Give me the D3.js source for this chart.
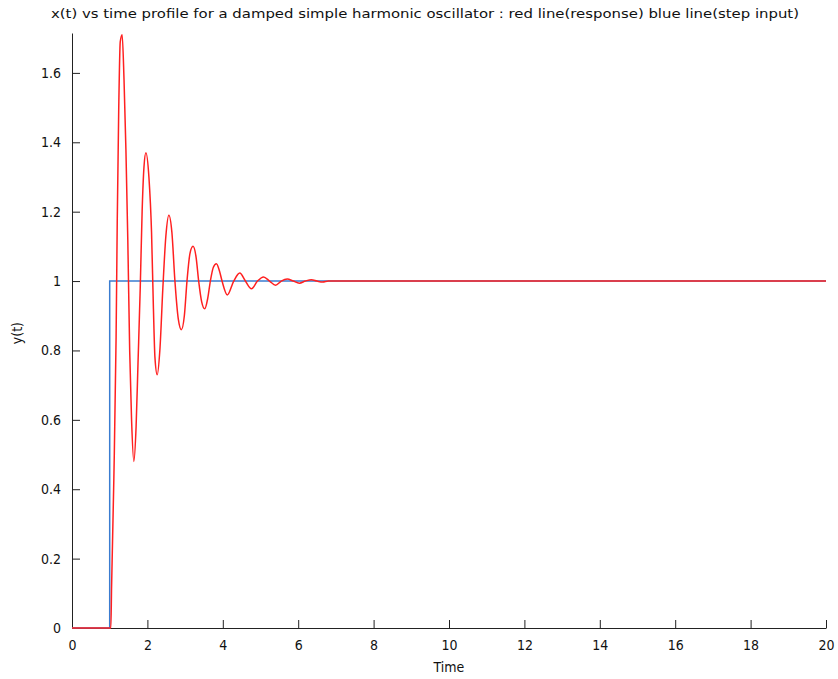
<!DOCTYPE html>
<html>
  <head>
    <meta charset="utf-8">
    <title>Damped oscillator</title>
    <script src="https://d3js.org/d3.v7.min.js"></script>
    <style>
      body { margin: 0; background: white; }
      text { font-family: "Liberation Sans Narrow", "DejaVu Sans Condensed", "Liberation Sans", sans-serif; fill: #111; }
      .axis path, .axis line { stroke: #222; stroke-width: 1; }
      .resp { fill: none; stroke: #ff2020; stroke-width: 1.5; }
      .step { fill: none; stroke: #3a7cd0; stroke-width: 1.5; }
    </style>
  </head>
  <body>
    <script>
      // red line: response
      var respT = [0, 1.00, 1.03, 1.05, 1.11, 1.17, 1.20, 1.24, 1.28, 1.33, 1.38, 1.43, 1.48, 1.53, 1.58, 1.64,
        1.70, 1.75, 1.81, 1.86, 1.91, 1.96, 2.04, 2.11, 2.16, 2.20, 2.26, 2.33, 2.41, 2.49, 2.57, 2.65,
        2.73, 2.82, 2.90, 2.98, 3.05, 3.13, 3.21, 3.29, 3.36, 3.44, 3.52, 3.60, 3.67, 3.75, 3.83, 3.91,
        3.98, 4.12, 4.29, 4.45, 4.60, 4.76, 4.92, 5.08, 5.24, 5.40, 5.55, 5.71, 5.87, 6.03, 6.19, 6.35,
        6.50, 6.65, 6.80, 20];
      var respV = [0, 0, 0, 0.12, 0.43, 0.84, 1.17, 1.50, 1.69, 1.71, 1.58, 1.38, 1.12, 0.80, 0.60, 0.48,
        0.58, 0.76, 0.98, 1.20, 1.33, 1.37, 1.30, 1.14, 0.92, 0.78, 0.73, 0.80, 0.98, 1.13, 1.19, 1.14,
        1.00, 0.89, 0.86, 0.90, 1.00, 1.08, 1.10, 1.07, 1.00, 0.94, 0.92, 0.95, 1.00, 1.04, 1.05, 1.03,
        1.00, 0.96, 1.00, 1.023, 1.00, 0.978, 1.00, 1.012, 1.00, 0.988, 1.00, 1.006, 1.00, 0.994, 1.00, 1.004,
        1.00, 0.997, 1.00, 1.00];

      // blue line: step input
      var stepT = [0, 1, 1, 20];
      var stepV = [0, 0, 1, 1];

      var xTicks = [0, 2, 4, 6, 8, 10, 12, 14, 16, 18, 20];
      var yTicks = [0, 0.2, 0.4, 0.6, 0.8, 1, 1.2, 1.4, 1.6];
      var yTickLabels = ['0', '0.2', '0.4', '0.6', '0.8', '1', '1.2', '1.4', '1.6'];

      var W = 838, H = 679;
      var m = { left: 72, right: 12, top: 33, bottom: 51 };

      var svg = d3.select('body').append('svg').attr('width', W).attr('height', H);

      var x = d3.scaleLinear().domain([0, 20]).range([m.left, W - m.right]);
      var y = d3.scaleLinear().domain([0, 1.715]).range([H - m.bottom, m.top]);

      var resp = respT.map(function(t, i){ return { t: t, v: respV[i] } });
      var step = stepT.map(function(t, i){ return { t: t, v: stepV[i] } });

      var xAxis = svg.append('g').attr('class', 'axis')
        .attr('transform', 'translate(0,' + (H - m.bottom) + ')')
        .call(d3.axisBottom(x).tickValues(xTicks).tickSize(-8).tickSizeOuter(0).tickPadding(12));
      xAxis.selectAll('text').style('font-size', '14px');

      var yAxis = svg.append('g').attr('class', 'axis')
        .attr('transform', 'translate(' + m.left + ',0)')
        .call(d3.axisLeft(y).tickValues(yTicks).tickFormat(function(d, i){ return yTickLabels[i] })
          .tickSize(-8).tickSizeOuter(0).tickPadding(11));
      yAxis.selectAll('text').style('font-size', '14px');
      svg.selectAll('.axis .domain').attr('fill', 'none');

      svg.append('path').datum(step).attr('class', 'step')
        .attr('d', d3.line().x(function(d){ return x(d.t) }).y(function(d){ return y(d.v) }));

      svg.append('path').datum(resp).attr('class', 'resp')
        .attr('d', d3.line().curve(d3.curveMonotoneX)
          .x(function(d){ return x(d.t) }).y(function(d){ return y(d.v) }));

      svg.append('text').attr('x', 425).attr('y', 18).attr('text-anchor', 'middle')
        .attr('textLength', 748).attr('lengthAdjust', 'spacingAndGlyphs')
        .style('font-size', '13px')
        .text('x(t) vs time profile for a damped simple harmonic oscillator : red line(response) blue line(step input)');

      svg.append('text').attr('x', x(10)).attr('y', 672).attr('text-anchor', 'middle')
        .style('font-size', '14px').text('Time');

      svg.append('text').attr('transform', 'translate(22,' + y(0.85) + ') rotate(-90)')
        .attr('text-anchor', 'middle').style('font-size', '14px').text('y(t)');
    </script>
  </body>
</html>
